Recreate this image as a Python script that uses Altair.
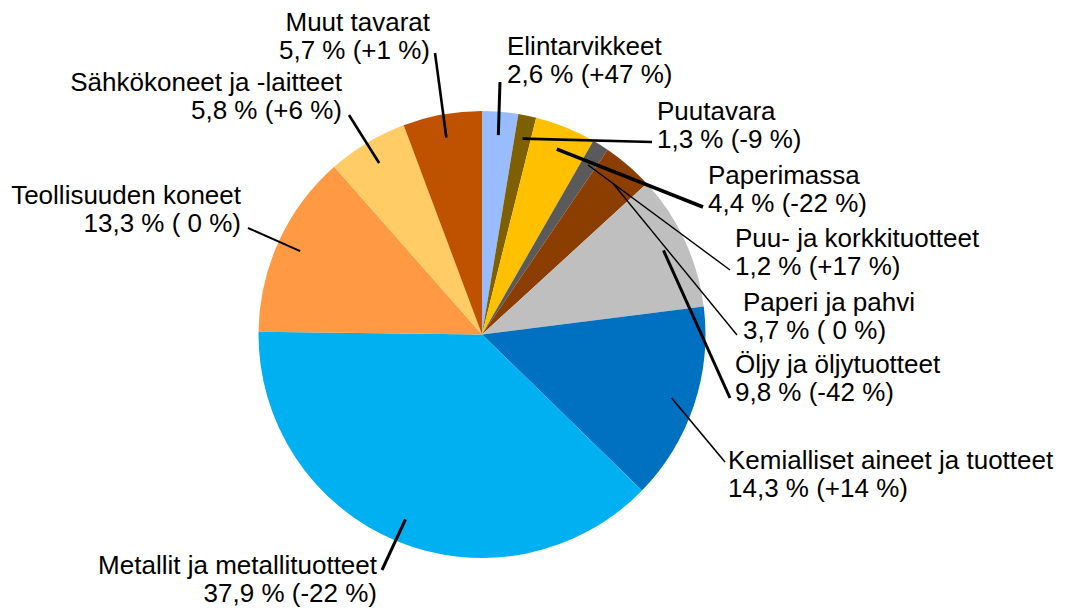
import altair as alt
import numpy as np
import pandas as pd

# ---- data ----
names = ["Elintarvikkeet", "Puutavara", "Paperimassa", "Puu- ja korkkituotteet",
         "Paperi ja pahvi", "Öljy ja öljytuotteet", "Kemialliset aineet ja tuotteet",
         "Metallit ja metallituotteet", "Teollisuuden koneet", "Sähkökoneet ja -laitteet",
         "Muut tavarat"]
shares = [2.6, 1.3, 4.4, 1.2, 3.7, 9.8, 14.3, 37.9, 13.3, 5.8, 5.7]
changes = ["+47", "-9", "-22", "+17", " 0", "-42", "+14", "-22", " 0", "+6", "+1"]
colors = ["#99BBFF", "#7F6000", "#FFC000", "#5A5A5A", "#8C3D00", "#BFBFBF",
          "#0070C0", "#00B0F0", "#FF9944", "#FFCC66", "#BF5200"]

# ---- layout (page pixels) ----
M = 8                      # page margin
CX, CY, R = 482.0, 334.5, 223.5
R_LEAD = 200.0
label_side = ["L", "L", "L", "L", "L", "L", "L", "R", "R", "R", "R"]   # L = left-aligned text
label_x = [507, 657, 708, 735, 743, 735, 728, 377, 241, 342, 430]
label_y = [55, 119.5, 184, 247, 311, 373, 469, 574, 204, 91, 31]
lead_end_x = [500, 652, 703, 730, 737, 730, 725, 382, 248, 349, 435]
lead_end_y = [82, 142, 207, 270, 335, 398, 462, 570, 228, 115, 53]
lead_width = [3, 2.7, 3.5, 1.4, 1.4, 3, 1.6, 3, 2, 2.6, 2.6]

vals = np.array(shares)
cum = np.cumsum(vals)
mid = (cum - vals / 2) / vals.sum() * 2 * np.pi
start_x = CX + R_LEAD * np.sin(mid)
start_y = CY - R_LEAD * np.cos(mid)

def fmt(v):
    return f"{v:.1f}".replace(".", ",")

labels = []
for n, v, c, s in zip(names, shares, changes, label_side):
    second = f"{fmt(v)} % ({c} %)"
    if s == "L":
        second = "\u00a0" + second
    labels.append(f"{n}\n{second}")

df = pd.DataFrame({
    "idx": range(len(names)),
    "name": names,
    "share": shares,
    "color": colors,
    "label": labels,
    "side": label_side,
    "lx": [x - M for x in label_x],
    "ly": [y - M for y in label_y],
    "sx": start_x - M,
    "sy": start_y - M,
    "ex": [x - M for x in lead_end_x],
    "ey": [y - M for y in lead_end_y],
    "sw": lead_width,
})

base = alt.Chart(df)

pie = base.mark_arc(outerRadius=R).encode(
    theta=alt.Theta("share:Q", stack=True),
    order=alt.Order("idx:Q"),
    color=alt.Color("color:N", scale=None),
    x=alt.value(CX - M),
    y=alt.value(CY - M),
)

leads = base.mark_rule(color="black").encode(
    x=alt.X("sx:Q", scale=None),
    y=alt.Y("sy:Q", scale=None),
    x2="ex:Q",
    y2="ey:Q",
    strokeWidth=alt.StrokeWidth("sw:Q", scale=None),
)

text_style = dict(baseline="alphabetic", lineBreak="\n", lineHeight=28,
                  fontSize=26, font="Liberation Sans", color="black")

text_left = base.transform_filter(alt.datum.side == "L").mark_text(align="left", **text_style).encode(
    x=alt.X("lx:Q", scale=None),
    y=alt.Y("ly:Q", scale=None),
    text="label:N",
)
text_right = base.transform_filter(alt.datum.side == "R").mark_text(align="right", **text_style).encode(
    x=alt.X("lx:Q", scale=None),
    y=alt.Y("ly:Q", scale=None),
    text="label:N",
)

chart = alt.layer(pie, leads, text_left, text_right).properties(
    width=1049, height=600, padding=0, autosize=alt.AutoSizeParams(type="none"),
).configure_view(stroke=None)

chart.save("out.html", embed_options={"renderer": "svg", "actions": False})
